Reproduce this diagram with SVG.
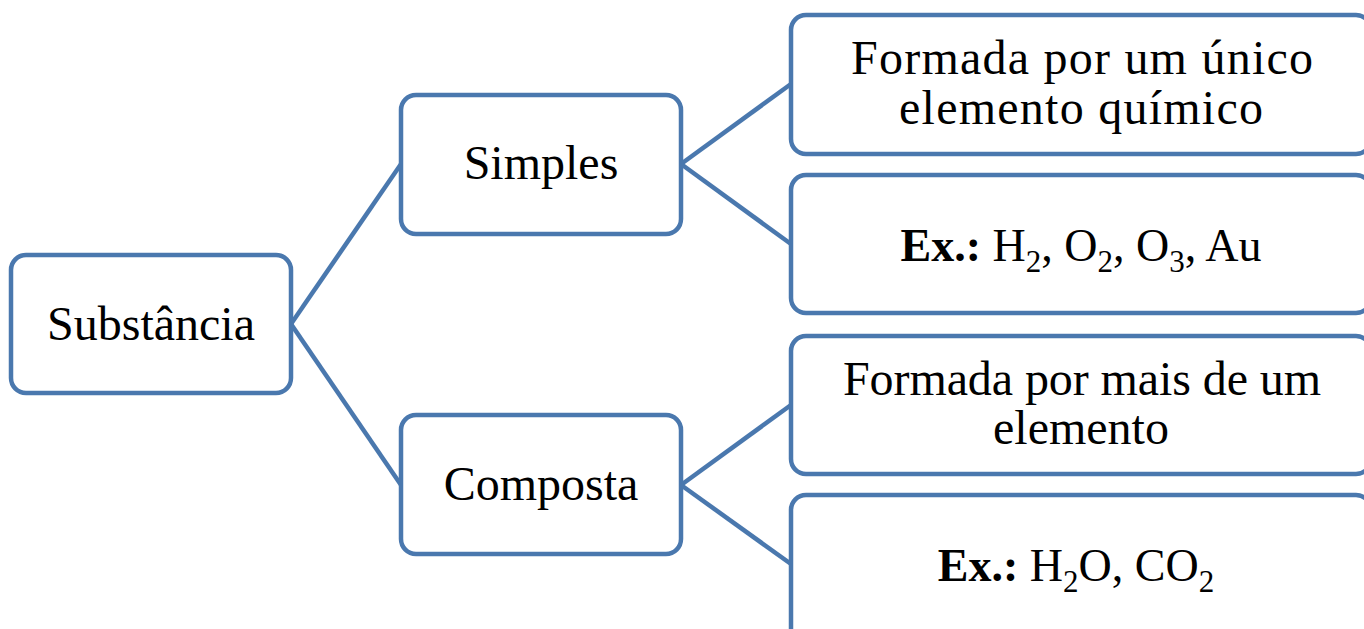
<svg xmlns="http://www.w3.org/2000/svg" width="1364" height="629" viewBox="0 0 1364 629">
  <style>
    .box { fill: #ffffff; stroke: #4a78ae; stroke-width: 4.5; }
    .link { stroke: #4a78ae; stroke-width: 4.5; fill: none; }
    .label { font-family: "Liberation Serif", "DejaVu Serif", serif; font-size: 48px; fill: #000000; text-anchor: middle; }
    .ex { font-size: 46px; }
    .b { font-weight: bold; }
    .sub { font-size: 31px; }
  </style>
  <rect width="1364" height="629" fill="#ffffff"/>

  <g id="connectors">
    <line class="link" x1="291" y1="324" x2="401" y2="164"/>
    <line class="link" x1="291" y1="324" x2="401" y2="485"/>
    <line class="link" x1="681" y1="164" x2="791" y2="84"/>
    <line class="link" x1="681" y1="164" x2="791" y2="244"/>
    <line class="link" x1="681" y1="485" x2="791" y2="405"/>
    <line class="link" x1="681" y1="485" x2="791" y2="564"/>
  </g>

  <g id="substancia">
    <rect class="box" x="11" y="255" width="280" height="138" rx="15"/>
    <text class="label" x="151" y="340">Substância</text>
  </g>

  <g id="simples">
    <rect class="box" x="401" y="95" width="280" height="139" rx="15"/>
    <text class="label" x="541" y="179">Simples</text>
  </g>

  <g id="composta">
    <rect class="box" x="401" y="415" width="280" height="139" rx="15"/>
    <text class="label" x="541" y="500">Composta</text>
  </g>

  <g id="simples-def">
    <rect class="box" x="791" y="15" width="580" height="139" rx="15"/>
    <text class="label" x="1082" y="74" textLength="462" lengthAdjust="spacing">Formada por um único</text>
    <text class="label" x="1081" y="124" textLength="364" lengthAdjust="spacing">elemento químico</text>
  </g>

  <g id="simples-ex">
    <rect class="box" x="791" y="175" width="580" height="138" rx="15"/>
    <text class="label ex" x="1081" y="261"><tspan class="b">Ex.:</tspan> H<tspan class="sub" dy="11">2</tspan><tspan dy="-11">, O</tspan><tspan class="sub" dy="11">2</tspan><tspan dy="-11">, O</tspan><tspan class="sub" dy="11">3</tspan><tspan dy="-11">, Au</tspan></text>
  </g>

  <g id="composta-def">
    <rect class="box" x="791" y="336" width="580" height="138" rx="15"/>
    <text class="label" x="1082" y="395" textLength="478" lengthAdjust="spacing">Formada por mais de um</text>
    <text class="label" x="1081" y="444">elemento</text>
  </g>

  <g id="composta-ex">
    <rect class="box" x="791" y="495" width="580" height="150" rx="15"/>
    <text class="label ex" x="1076" y="581"><tspan class="b">Ex.:</tspan> H<tspan class="sub" dy="11">2</tspan><tspan dy="-11">O, CO</tspan><tspan class="sub" dy="11">2</tspan></text>
  </g>
</svg>
